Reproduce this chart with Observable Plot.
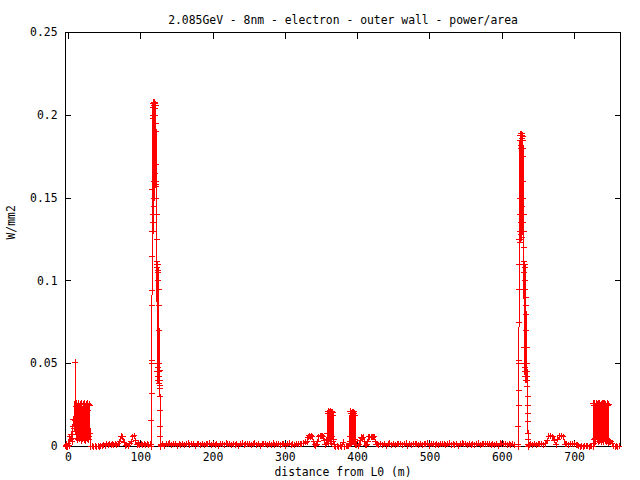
<!DOCTYPE html>
<html>
<head>
<meta charset="utf-8">
<script src="https://cdn.jsdelivr.net/npm/d3@7"></script>
<script src="https://cdn.jsdelivr.net/npm/@observablehq/plot@0.6"></script>
<style>
  html, body { margin: 0; padding: 0; background: #fff; }
</style>
</head>
<body>
<div id="chart"></div>
<script>
// ---- texts and ticks ----
const title = "2.085GeV - 8nm - electron - outer wall - power/area";
const xLabel = "distance from L0 (m)";
const yLabel = "W/mm2";
const xTicks = [0, 100, 200, 300, 400, 500, 600, 700];
const yTicks = [0, 0.05, 0.1, 0.15, 0.2, 0.25];
const yTickLabels = ["0", "0.05", "0.1", "0.15", "0.2", "0.25"];
const xDomain = [-4, 763.5];
const yDomain = [0, 0.25];

// ---- data: each segment = [first distance (m), sampling step (m)] + power/area readings (W/mm2) ----
const edgeGrid = [-4, 1];
const edgePower = [0.0005, 0, 0.0015, 0, 0.002, 0.0005, 0.006, 0.0045, 0.0075, 0.003, 0.012, 0.0165, 0.011];

const blockAGrid = [9, 0.5];
const blockAPower = [0.0155, 0.051, 0.009, 0.024, 0.005, 0.026, 0.007, 0.022, 0.004, 0.025,
  0.006, 0.026, 0.0045, 0.023, 0.008, 0.0255, 0.005, 0.024, 0.0035, 0.026,
  0.006, 0.022, 0.0045, 0.0255, 0.007, 0.024, 0.004, 0.026, 0.005, 0.023,
  0.0035, 0.0255, 0.006, 0.024, 0.0045, 0.026, 0.005, 0.022, 0.004, 0.0255,
  0.006, 0.025, 0.008];

const baseAGrid = [31, 2];
const baseAPower = [0, 0.0003, 0, 0.0002, 0, 0.0003, 0, 0.0002, 0.0004, 0.0012,
  0.0006, 0.0016, 0.001, 0.0018, 0.0008, 0.0016, 0.0011, 0.0018, 0.0009, 0.0017,
  0.003, 0.0062, 0.0058, 0.0025, 0.0004, 0.0012, 0.0005, 0.0016, 0.0028, 0.006,
  0.0064, 0.0035, 0.0012, 0.0017, 0.0008, 0.0015, 0.0009, 0.0016, 0.001, 0.0015,
  0.0008, 0.0014];

const peak1Grid = [114.5, 0.17];
const peak1Power = [0.001, 0.0, 0.016, 0.032, 0.05, 0.052, 0.085, 0.094, 0.115, 0.13,
  0.155, 0.135, 0.2, 0.13, 0.205, 0.14, 0.198, 0.13, 0.207, 0.145,
  0.2, 0.135, 0.208, 0.15, 0.206, 0.16, 0.2, 0.165, 0.208, 0.158,
  0.204, 0.17, 0.207, 0.16, 0.2, 0.165, 0.206, 0.158, 0.195, 0.16,
  0.19, 0.157, 0.17, 0.15, 0.14, 0.125, 0.112, 0.11, 0.05, 0.108,
  0.045, 0.11, 0.04, 0.105, 0.048, 0.11, 0.042, 0.1, 0.04, 0.106,
  0.05, 0.095, 0.042, 0.085, 0.04, 0.07, 0.045, 0.038, 0.046, 0.037,
  0.04, 0.035, 0.03, 0.022, 0.012, 0.006, 0.001, 0.0, 0.0008];

const baseBGrid = [128, 2.5];
const baseBPower = [0.0012, 0.0018, 0.0006, 0.0016, 0.0013, 0.0019, 0.0008, 0.0017, 0.0014, 0.0005,
  0.0018, 0.0012, 0.0016, 0.0007, 0.0015, 0.0019, 0.0011, 0.0017, 0.0013, 0.0006,
  0.0016, 0.0018, 0.0012, 0.0015, 0.0007, 0.0017, 0.0014, 0.0019, 0.0009, 0.0016,
  0.0012, 0.0018, 0.0006, 0.0015, 0.0017, 0.0011, 0.0019, 0.0013, 0.0016, 0.0008,
  0.0018, 0.0012, 0.0017, 0.0006, 0.0015, 0.0019, 0.001, 0.0016, 0.0013, 0.0018,
  0.0007, 0.0016, 0.0019, 0.0012, 0.0015, 0.0006, 0.0017, 0.0014, 0.0018, 0.0009,
  0.0016, 0.0012, 0.0019, 0.0007, 0.0015, 0.0017, 0.0011, 0.0018, 0.0013, 0.0006,
  0.0016, 0.0019, 0.0012, 0.0015, 0.0008, 0.0017, 0.0014, 0.0018, 0.0016, 0.0021,
  0.0025];

const midAGrid = [330, 1.5];
const midAPower = [0.003, 0.0055, 0.0066, 0.006, 0.0065, 0.0058, 0.003, 0.0012, 0.0005, 0.0015,
  0.003, 0.006, 0.0066, 0.0062, 0.0065, 0.006, 0.0035, 0.0012, 0.002];

const bumpCGrid = [358, 0.5];
const bumpCPower = [0.008, 0.02, 0.004, 0.0213, 0.002, 0.021, 0.005, 0.0205, 0.003, 0.0213,
  0.004, 0.02, 0.002, 0.021, 0.006, 0.0208, 0.003, 0.019, 0.004, 0.001];

const midBGrid = [368, 2];
const midBPower = [0.0003, 0, 0.0002, 0, 0.0004, 0, 0.0026, 0, 0.0003, 0.0001, 0.0005];

const bumpDGrid = [389, 0.5];
const bumpDPower = [0.006, 0.021, 0.003, 0.0213, 0.002, 0.02, 0.004, 0.021, 0.003, 0.0205,
  0.005, 0.021, 0.002, 0.02, 0.004, 0.019, 0.003, 0.001];

const midCGrid = [399, 1.5];
const midCPower = [0.0012, 0.0006, 0.0015, 0.0035, 0.0055, 0.005, 0.0056, 0.003, 0.0008, 0.0012,
  0.0028, 0.0058, 0.006, 0.0055, 0.006, 0.0057, 0.006, 0.003, 0.0015, 0.0018, 0.0012];

const baseCGrid = [432, 2.5];
const baseCPower = [0.0016, 0.0011, 0.0018, 0.0006, 0.0015, 0.0019, 0.0012, 0.0017, 0.0007, 0.0016,
  0.0013, 0.0018, 0.001, 0.0015, 0.0019, 0.0006, 0.0017, 0.0012, 0.0016, 0.0014,
  0.0018, 0.0008, 0.0016, 0.0012, 0.0017, 0.0013, 0.0019, 0.0006, 0.0015, 0.0018,
  0.0012, 0.0016, 0.0009, 0.0017, 0.0014, 0.0018, 0.0007, 0.0015, 0.0019, 0.0012,
  0.0016, 0.0011, 0.0018, 0.0006, 0.0015, 0.0019, 0.0013, 0.0017, 0.0008, 0.0016,
  0.0012, 0.0018, 0.001, 0.0015, 0.0019, 0.0007, 0.0017, 0.0013, 0.0016, 0.0014,
  0.0018, 0.0009, 0.0016, 0.0012, 0.0017, 0.0006, 0.0019, 0.0013, 0.0015, 0.0018,
  0.0011, 0.0016, 0.0008, 0.0015, 0.0012];

const peak2Grid = [622, 0.17];
const peak2Power = [0.001, 0.0, 0.012, 0.025, 0.034, 0.05, 0.052, 0.075, 0.095, 0.11,
  0.125, 0.14, 0.125, 0.15, 0.123, 0.185, 0.13, 0.188, 0.125, 0.18,
  0.13, 0.189, 0.14, 0.185, 0.128, 0.188, 0.135, 0.182, 0.126, 0.189,
  0.14, 0.186, 0.13, 0.18, 0.145, 0.188, 0.135, 0.185, 0.15, 0.187,
  0.14, 0.18, 0.16, 0.175, 0.14, 0.13, 0.12, 0.112, 0.06, 0.11,
  0.05, 0.105, 0.045, 0.11, 0.05, 0.1, 0.042, 0.108, 0.048, 0.095,
  0.04, 0.09, 0.045, 0.085, 0.04, 0.08, 0.045, 0.07, 0.04, 0.06,
  0.042, 0.05, 0.04, 0.045, 0.036, 0.04, 0.03, 0.025, 0.02, 0.015,
  0.008, 0.004, 0.001, 0.0, 0.0008];

const baseDGrid = [637, 2.5];
const baseDPower = [0.0008, 0.0015, 0.0012, 0.0017, 0.0009, 0.0016, 0.0013, 0.0018, 0.001, 0.0016,
  0.0035, 0.0062, 0.0066, 0.006, 0.0038, 0.0012, 0.0045, 0.0064, 0.0066, 0.0058,
  0.0015, 0.0018, 0.001, 0.0016, 0.0013, 0.0017, 0.0011, 0.0012];

const lowEGrid = [706, 2];
const lowEPower = [0.0004, 0, 0.0003, 0, 0.0005, 0.0001, 0.0004, 0, 0.0003, 0.0002];

const blockEGrid = [725.5, 0.5];
const blockEPower = [0.0, 0.026, 0.004, 0.025, 0.002, 0.026, 0.005, 0.0245, 0.003, 0.026,
  0.006, 0.025, 0.004, 0.0255, 0.003, 0.026, 0.005, 0.024, 0.0035, 0.026,
  0.004, 0.025, 0.006, 0.0255, 0.003, 0.026, 0.004, 0.0245, 0.005, 0.026,
  0.003, 0.025, 0.0045, 0.026, 0.004, 0.0255, 0.005, 0.024, 0.003, 0.026,
  0.004, 0.025, 0.002, 0.0255, 0.003, 0.0035, 0.0025];

const tailGrid = [750, 2];
const tailPower = [0.0028, 0.002, 0.0003, 0, 0.0002, 0, 0.0001];

const segments = [
  [edgeGrid, edgePower], [blockAGrid, blockAPower], [baseAGrid, baseAPower],
  [peak1Grid, peak1Power], [baseBGrid, baseBPower], [midAGrid, midAPower],
  [bumpCGrid, bumpCPower], [midBGrid, midBPower], [bumpDGrid, bumpDPower],
  [midCGrid, midCPower], [baseCGrid, baseCPower], [peak2Grid, peak2Power],
  [baseDGrid, baseDPower], [lowEGrid, lowEPower], [blockEGrid, blockEPower],
  [tailGrid, tailPower]
];
const table = segments.flatMap(([[x0, dx], ys]) => ys.map((p, i) => ({distance: x0 + i * dx, power: p})));

// gnuplot-style "+" point
const plusSymbol = {
  draw(context, size) {
    const r = Math.sqrt(size / Math.PI);
    context.moveTo(-r, 0); context.lineTo(r, 0);
    context.moveTo(0, -r); context.lineTo(0, r);
  }
};

const font = "'DejaVu Sans Mono', monospace";
const chart = Plot.plot({
  width: 640,
  height: 480,
  marginLeft: 65,
  marginRight: 20,
  marginTop: 32,
  marginBottom: 34,
  x: {domain: xDomain},
  y: {domain: yDomain},
  style: {fontFamily: font, fontSize: "11.4px", background: "white", color: "black"},
  marks: [
    Plot.frame({stroke: "black", strokeWidth: 1, shapeRendering: "crispEdges"}),
    Plot.axisX(xTicks, {anchor: "bottom", tickSize: -6, tickPadding: 12, label: null,
      tickFormat: d => String(d), shapeRendering: "crispEdges"}),
    Plot.axisX(xTicks, {anchor: "top", tickSize: -6, label: null, tickFormat: () => "", shapeRendering: "crispEdges"}),
    Plot.axisY(yTicks, {anchor: "left", tickSize: -6, tickPadding: 14, label: null,
      tickFormat: d => yTickLabels[yTicks.indexOf(d)], shapeRendering: "crispEdges"}),
    Plot.axisY(yTicks, {anchor: "right", tickSize: -6, label: null, tickFormat: () => "", shapeRendering: "crispEdges"}),
    Plot.line(table, {x: "distance", y: "power", stroke: "#ff0000", strokeWidth: 1, shapeRendering: "crispEdges"}),
    Plot.dot(table, {x: "distance", y: "power", symbol: plusSymbol, r: 3, stroke: "#ff0000", fill: "none", strokeWidth: 1, shapeRendering: "crispEdges"}),
    Plot.text([title], {text: d => d, frameAnchor: "top", dy: -17, fill: "black"}),
    Plot.text([xLabel], {text: d => d, frameAnchor: "bottom", dy: 29, fill: "black"}),
    Plot.text([yLabel], {text: d => d, frameAnchor: "left", dx: -54, rotate: -90, fill: "black"})
  ]
});
document.getElementById("chart").appendChild(chart);
</script>
</body>
</html>
